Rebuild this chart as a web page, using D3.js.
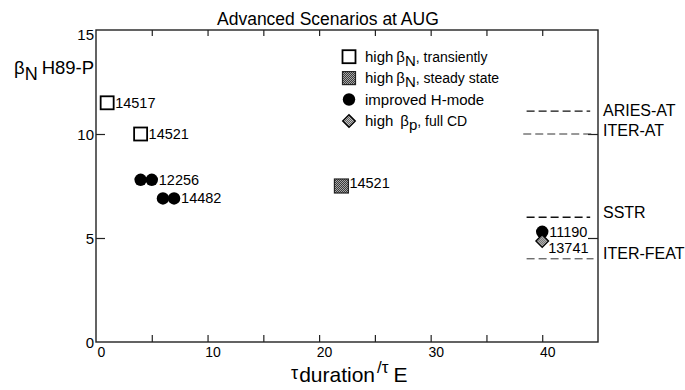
<!DOCTYPE html>
<html><head><meta charset="utf-8">
<script src="https://cdn.jsdelivr.net/npm/d3@7"></script>
<style>body{margin:0;background:#fff} svg{display:block;font-family:"Liberation Sans",Arial,Helvetica,sans-serif}</style>
</head><body><svg id="c" width="685" height="390"></svg>
<script>
// ---- data ----
const title = "Advanced Scenarios at AUG";
const xDomain = [0, 45];
const yDomain = [0, 15];
const xTickLabels = [0, 10, 20, 30, 40];
const xTickMarks = [5, 10, 15, 20, 25, 30, 35, 40];
const yTickLabels = [0, 5, 10, 15];
const yTickMarks = [5, 10];

const transientX = [1, 4];
const transientY = [11.5, 10];
const transientLabels = ["14517", "14521"];

const steadyX = [22];
const steadyY = [7.5];
const steadyLabels = ["14521"];

const improvedX = [4, 5, 6, 7, 40];
const improvedY = [7.8, 7.8, 6.9, 6.9, 5.3];
const improvedLabels = ["", "12256", "", "14482", "11190"];

const fullCdX = [40];
const fullCdY = [4.85];
const fullCdLabels = ["13741"];

const refNames = ["ARIES-AT", "ITER-AT", "SSTR", "ITER-FEAT"];
const refValues = [11.1, 10, 6, 4];
const refStart = [38.6, 38.3, 38.6, 38.6];
const refEnd = [44.3, 44.4, 44.3, 44.6];

// ---- layout ----
const svg = d3.select("#c");
const L = 96, T = 30, R = 598, B = 342;
const x = d3.scaleLinear().domain(xDomain).range([L, R]);
const y = d3.scaleLinear().domain(yDomain).range([B, T]);

const defs = svg.append("defs");
function stipple(id, c1, c2) {
  const p = defs.append("pattern").attr("id", id).attr("width", 2).attr("height", 2)
    .attr("patternUnits", "userSpaceOnUse");
  p.append("rect").attr("width", 2).attr("height", 2).attr("fill", c1);
  p.append("rect").attr("width", 1).attr("height", 1).attr("fill", c2);
  p.append("rect").attr("x", 1).attr("y", 1).attr("width", 1).attr("height", 1).attr("fill", c2);
}
stipple("stDark", "#3a3a3a", "#a8a8a8");
stipple("stLight", "#555", "#d0d0d0");

// frame
svg.append("rect").attr("x", L).attr("y", T).attr("width", R - L).attr("height", B - T)
  .attr("fill", "none").attr("stroke", "#222").attr("stroke-width", 1.4);

// axes via d3 axes (ticks only, inward)
const tickStyle = g => g.call(s => s.select(".domain").remove())
  .call(s => s.selectAll("line").attr("stroke", "#222").attr("stroke-width", 1.2));
svg.append("g").attr("transform", `translate(0,${B})`)
  .call(d3.axisTop(x).tickValues(xTickMarks).tickSize(7).tickFormat("")).call(tickStyle);
svg.append("g").attr("transform", `translate(0,${T})`)
  .call(d3.axisBottom(x).tickValues(xTickMarks).tickSize(6).tickFormat("")).call(tickStyle);
svg.append("g").attr("transform", `translate(${L},0)`)
  .call(d3.axisRight(y).tickValues(yTickMarks).tickSize(9).tickFormat("")).call(tickStyle);
svg.append("g").attr("transform", `translate(${R},0)`)
  .call(d3.axisLeft(y).tickValues(yTickMarks).tickSize(10).tickFormat("")).call(tickStyle);

// tick labels
const xl = svg.append("g").attr("transform", `translate(0,${B})`)
  .call(d3.axisBottom(x).tickValues(xTickLabels).tickSize(0).tickPadding(0).tickFormat(d3.format("d")));
xl.select(".domain").remove();
xl.selectAll("text").attr("font-family", "Liberation Sans, Arial, sans-serif").attr("font-size", 14)
  .attr("fill", "#000").attr("dx", 5).attr("y", 15).attr("dy", 0);

const yl = svg.append("g").attr("transform", `translate(${L},0)`)
  .call(d3.axisLeft(y).tickValues(yTickLabels).tickSize(0).tickPadding(2).tickFormat(d3.format("d")));
yl.select(".domain").remove();
yl.selectAll("text").attr("font-family", "Liberation Sans, Arial, sans-serif").attr("font-size", 15)
  .attr("fill", "#000").attr("dy", (d) => d === 15 ? "0.6em" : "0.35em");

// title
svg.append("text").attr("x", 217).attr("y", 25).attr("font-size", 17.5).text(title);

// y label
const ylab = svg.append("text").attr("x", 14).attr("y", 74).attr("font-size", 18.5);
ylab.append("tspan").text("β");
ylab.append("tspan").attr("dy", 6).attr("font-size", 18).text("N");
ylab.append("tspan").attr("dy", -6).attr("dx", 4).text("H89-P");

// x label
const xlab = svg.append("text").attr("x", 291).attr("y", 382).attr("font-size", 21);
xlab.append("tspan").attr("dy", -3).attr("font-size", 18).text("τ");
xlab.append("tspan").attr("dy", 3).attr("dx", 1).text("duration");
xlab.append("tspan").attr("dy", -9).attr("dx", 2).attr("font-size", 17).text("/τ");
xlab.append("tspan").attr("dy", 9).attr("dx", 5).text("E");

// reference lines
const refStyle = {
  "ARIES-AT": {w: 1.4, c: "#111", dy: 5},
  "ITER-AT": {w: 1.0, c: "#333", dy: 2},
  "SSTR": {w: 1.4, c: "#111", dy: 1},
  "ITER-FEAT": {w: 1.0, c: "#333", dy: 0}
};
refNames.forEach((n, i) => {
  const s = refStyle[n];
  svg.append("line").attr("x1", x(refStart[i])).attr("x2", x(refEnd[i]))
    .attr("y1", y(refValues[i])).attr("y2", y(refValues[i]))
    .attr("stroke", s.c).attr("stroke-width", s.w).attr("stroke-dasharray", "8,4");
  svg.append("text").attr("x", R + 5).attr("y", y(refValues[i]) + s.dy)
    .attr("font-size", 16).text(n);
});

// markers
const pts = [];
function addSeries(xs, ys, labs, kind) {
  xs.forEach((v, i) => pts.push({x: v, y: ys[i], label: labs[i], kind}));
}
addSeries(improvedX, improvedY, improvedLabels, "circle");
addSeries(fullCdX, fullCdY, fullCdLabels, "diamond");
addSeries(transientX, transientY, transientLabels, "open");
addSeries(steadyX, steadyY, steadyLabels, "steady");

const g = svg.append("g");
function drawMarker(kind, cx, cy, big) {
  if (kind === "circle") {
    g.append("circle").attr("cx", cx).attr("cy", cy).attr("r", 6.2).attr("fill", "#000");
  } else if (kind === "diamond") {
    g.append("path").attr("d", d3.symbol(d3.symbolDiamond2, 100)())
      .attr("transform", `translate(${cx},${cy})`)
      .attr("fill", "url(#stLight)").attr("stroke", "#000").attr("stroke-width", 1.4);
  } else if (kind === "open") {
    g.append("rect").attr("x", cx - 6.5).attr("y", cy - 6.5).attr("width", 13).attr("height", 13)
      .attr("fill", "#fff").attr("stroke", "#000").attr("stroke-width", 1.8);
  } else {
    const h = big ? 7 : 6.5;
    g.append("rect").attr("x", cx - h).attr("y", cy - h).attr("width", 2 * h).attr("height", 2 * h)
      .attr("fill", "url(#stDark)").attr("stroke", "#222").attr("stroke-width", 1.2);
  }
}
pts.forEach(p => drawMarker(p.kind, x(p.x), y(p.y), true));
const labelNudge = {circle: [7, 5], diamond: [6, 12], open: [8, 5], steady: [8, 2]};
pts.filter(p => p.label).forEach(p => {
  const n = labelNudge[p.kind];
  svg.append("text").attr("x", x(p.x) + n[0]).attr("y", y(p.y) + n[1])
    .attr("font-size", 14.5).text(p.label);
});

// legend
const legendKinds = ["open", "steady", "circle", "diamond"];
const lx = 349, ly0 = 56.7, lstep = 21.4;
legendKinds.forEach((k, i) => {
  const cy = ly0 + i * lstep;
  drawMarker(k, lx, cy, false);
  const t = svg.append("text").attr("x", 365).attr("y", cy + 5).attr("font-size", 15);
  if (k === "open" || k === "steady") {
    t.append("tspan").text("high");
    t.append("tspan").attr("dx", 3).text("β");
    t.append("tspan").attr("dy", 4).text("N");
    t.append("tspan").attr("dy", -4).attr("font-size", 14).text(k === "open" ? ", transiently" : ", steady state");
  } else if (k === "circle") {
    t.append("tspan").text("improved H-mode");
  } else {
    t.append("tspan").text("high");
    t.append("tspan").attr("dx", 7).text("β");
    t.append("tspan").attr("dy", 4).text("p");
    t.append("tspan").attr("dy", -4).attr("font-size", 14).text(", full CD");
  }
});
</script></body></html>
